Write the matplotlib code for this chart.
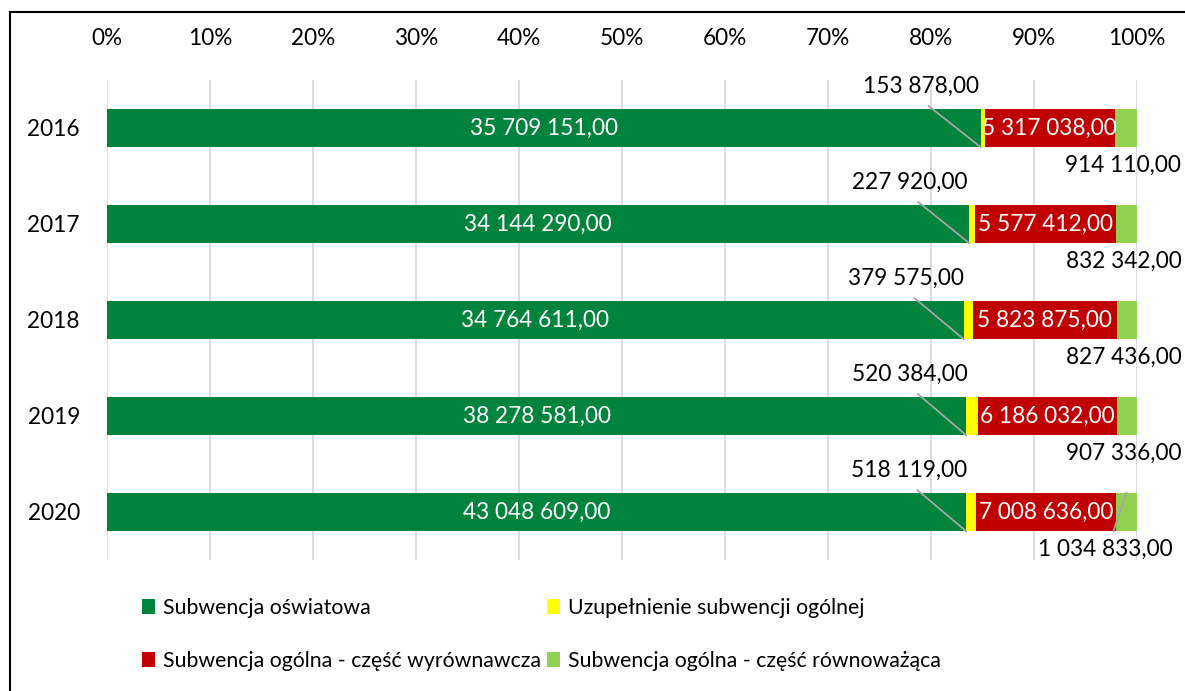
import matplotlib
matplotlib.use("Agg")
import matplotlib.pyplot as plt
from matplotlib.patches import Rectangle, Patch
import numpy as np

years = ["2016", "2017", "2018", "2019", "2020"]
oswiatowa = [35709151.00, 34144290.00, 34764611.00, 38278581.00, 43048609.00]
uzupelnienie = [153878.00, 227920.00, 379575.00, 520384.00, 518119.00]
wyrownawcza = [5317038.00, 5577412.00, 5823875.00, 6186032.00, 7008636.00]
rownowazaca = [914110.00, 832342.00, 827436.00, 907336.00, 1034833.00]

series_names = ["Subwencja oświatowa", "Uzupełnienie subwencji ogólnej",
                "Subwencja ogólna - część wyrównawcza", "Subwencja ogólna - część równoważąca"]
colors = ["#00843D", "#FFFF00", "#C00000", "#92D050"]
xtick_labels = ["0%", "10%", "20%", "30%", "40%", "50%", "60%", "70%", "80%", "90%", "100%"]

plt.rcParams['font.family'] = ['Lato', 'DejaVu Sans']
FS = 16.3
LFS = 15.3

def fmt(v):
    s = f"{v:,.2f}"
    s = s.replace(",", " ").replace(".", ",")
    return s

W, H = 1185, 691
fig = plt.figure(figsize=(W/100, H/100), dpi=100)
ax = fig.add_axes([107/W, 1-560/H, (1137-107)/W, 480/H])

# figure border (partially visible)
fig.patches.append(Rectangle((10/W, -0.5), 2, 1 - 12/H + 0.5, transform=fig.transFigure,
                             fill=False, edgecolor="black", linewidth=1.5, zorder=0))

data = np.array([oswiatowa, uzupelnienie, wyrownawcza, rownowazaca])
totals = data.sum(axis=0)
frac = data / totals
ypos = np.arange(len(years))
bh = 0.4

left = np.zeros(len(years))
for i in range(4):
    ax.barh(ypos, frac[i], left=left, height=bh, color=colors[i], label=series_names[i], zorder=2)
    left = left + frac[i]

ax.set_xlim(0, 1)
ax.set_ylim(len(years) - 0.5, -0.5)
ax.set_yticks(ypos)
ax.set_yticklabels(years, fontsize=FS)
ax.set_xticks(np.linspace(0, 1, 11))
ax.set_xticklabels(xtick_labels, fontsize=FS)
ax.xaxis.tick_top()
ax.tick_params(axis='both', length=0)
ax.tick_params(axis='x', pad=22)
ax.tick_params(axis='y', pad=19.5)
for s in ax.spines.values():
    s.set_visible(False)
ax.grid(axis='x', color="#D9D9D9", linewidth=1.3, zorder=0)
ax.set_axisbelow(True)

px = 1 / (1137-107)  # one pixel in x data units
py = 1 / 96.0         # one pixel in y data units

for j in range(len(years)):
    g0 = 0
    g1 = frac[0, j]
    y0 = g1
    y1 = g1 + frac[1, j]
    r1 = y1 + frac[2, j]
    l1 = 1.0
    # green label
    ax.text((g0 + g1)/2, j, fmt(oswiatowa[j]), color="white", ha="center", va="center", fontsize=FS, zorder=4)
    # red label
    ax.text((y1 + r1)/2, j, fmt(wyrownawcza[j]), color="white", ha="center", va="center", fontsize=FS, zorder=4)
    # yellow label with leader
    lx = (y0 + y1)/2 - 62*px
    ly = j - 42*py
    ax.text(lx, ly, fmt(uzupelnienie[j]), color="black", ha="center", va="center", fontsize=FS, zorder=4, clip_on=False)
    ax.plot([lx + 8*px, y0], [ly + 20*py, j + bh/2], color="#A6A6A6", linewidth=1.3, zorder=3, clip_on=False)
    # light green label
    gx = (r1 + l1)/2 - 3*px
    gy = j + 37*py
    txt = fmt(rownowazaca[j])
    if len(txt) > 10:
        gx = gx - 18*px
        ax.plot([r1 + 10*px, r1 - 3*px], [j - bh/2, j + bh/2], color="#A6A6A6", linewidth=1.3, zorder=3)
    ax.text(gx, gy, txt, color="black", ha="center", va="center", fontsize=FS, zorder=4, clip_on=False)

# legend, filled row-wise (matplotlib fills column-wise, so reorder)
order = [0, 2, 1, 3]
handles = [Patch(facecolor=colors[k], edgecolor='none') for k in order]
labels = [series_names[k] for k in order]
fig.legend(handles, labels, loc="center left", bbox_to_anchor=(142/W, 1 - 634.5/H), ncol=2,
           frameon=False, fontsize=LFS, handlelength=0.62, handleheight=0.7, handletextpad=0.35,
           columnspacing=0.3, labelspacing=1.55, borderpad=0, borderaxespad=0)

fig.savefig("out.png", dpi=100)
